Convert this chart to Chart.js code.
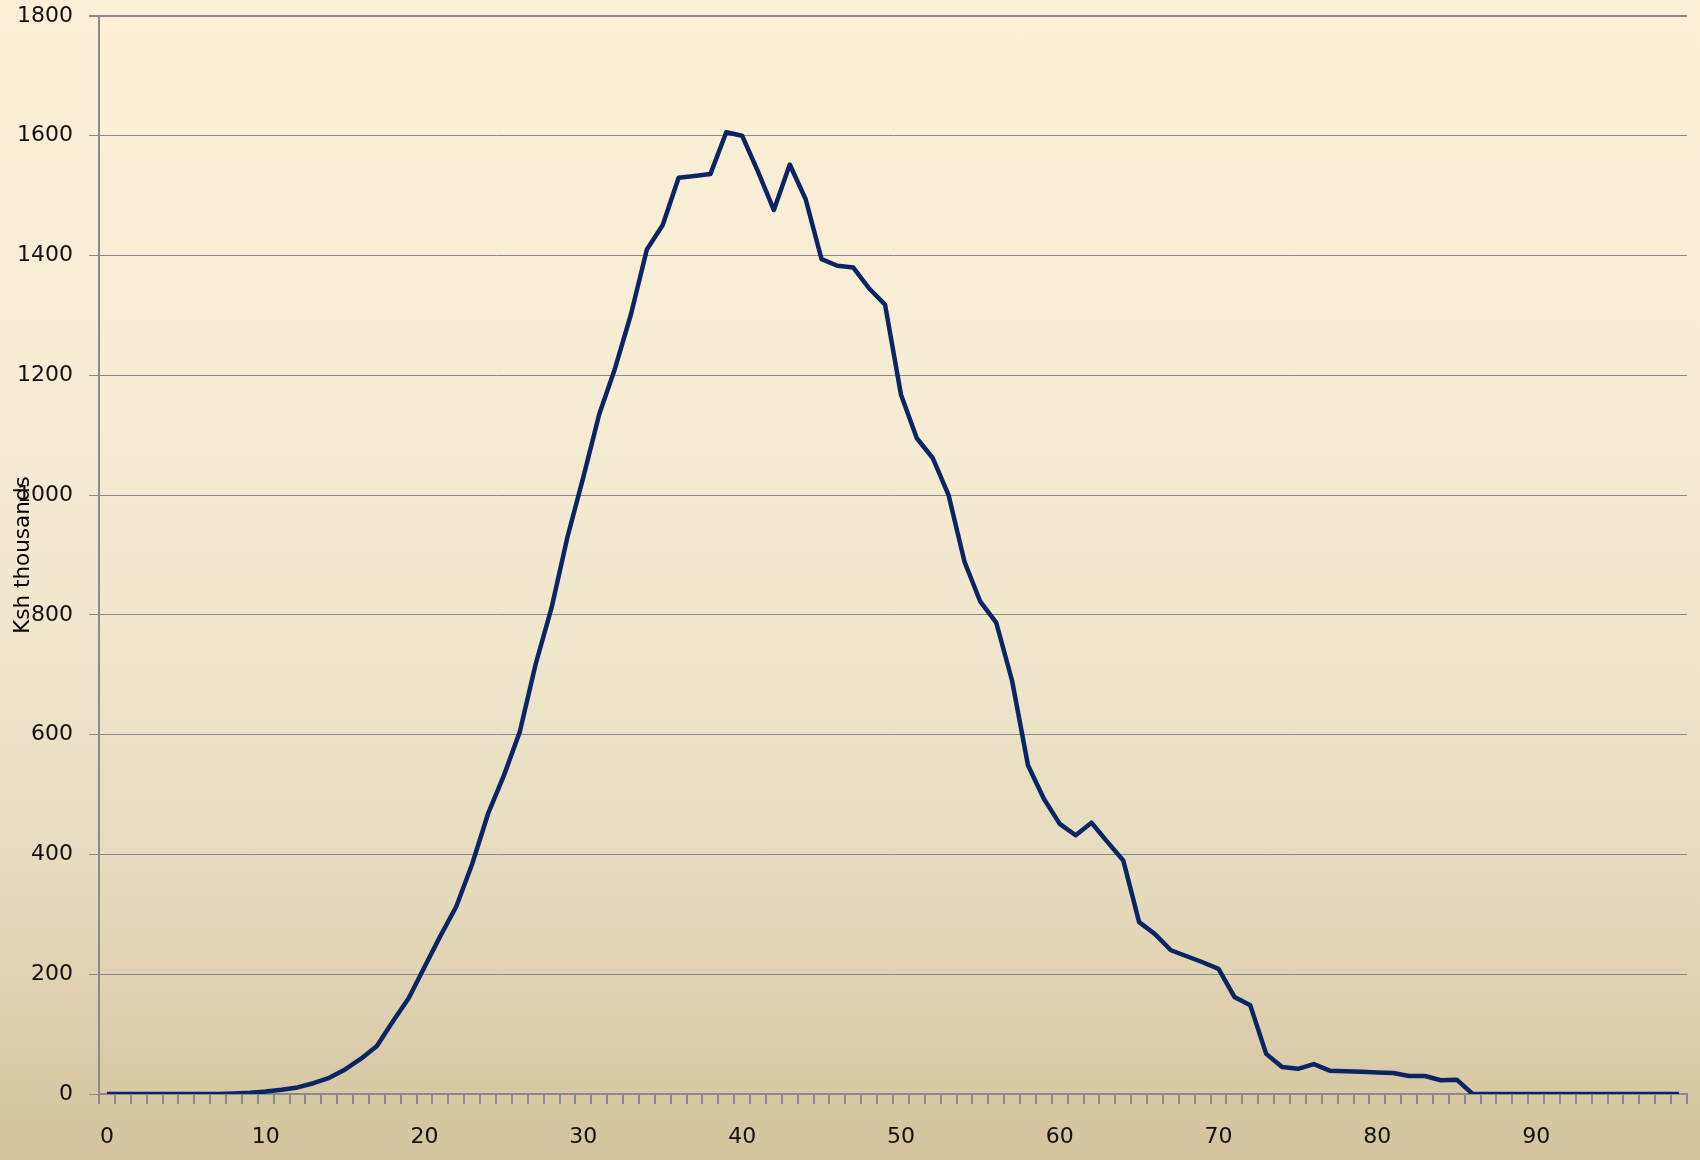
<!DOCTYPE html>
<html>
<head>
<meta charset="utf-8">
<script src="https://cdn.jsdelivr.net/npm/chart.js@4"></script>
<style>
  html, body { margin: 0; padding: 0; }
  body { width: 1700px; height: 1160px; overflow: hidden; }
  #wrap {
    width: 1700px; height: 1160px;
    background: linear-gradient(to bottom, #fcefd6 0%, #f6ecd4 35%, #efe6cc 55%, #e4d9bb 78%, #d3c39e 100%);
  }
</style>
</head>
<body>
<div id="wrap"><canvas id="chart" width="1700" height="1160"></canvas></div>
<script>
// age (years)
var ages = [
  0, 1, 2, 3, 4, 5, 6, 7, 8, 9,
  10, 11, 12, 13, 14, 15, 16, 17, 18, 19,
  20, 21, 22, 23, 24, 25, 26, 27, 28, 29,
  30, 31, 32, 33, 34, 35, 36, 37, 38, 39,
  40, 41, 42, 43, 44, 45, 46, 47, 48, 49,
  50, 51, 52, 53, 54, 55, 56, 57, 58, 59,
  60, 61, 62, 63, 64, 65, 66, 67, 68, 69,
  70, 71, 72, 73, 74, 75, 76, 77, 78, 79,
  80, 81, 82, 83, 84, 85, 86, 87, 88, 89,
  90, 91, 92, 93, 94, 95, 96, 97, 98, 99
];

// Ksh thousands
var amounts = [
  0, 0, 0, 0, 0, 0, 0, 0, 1, 2,
  4, 7, 11, 18, 27, 41, 59, 80, 121, 160,
  212, 264, 313, 384, 468, 532, 605, 718, 812, 930,
  1030, 1135, 1212, 1302, 1410, 1451, 1530, 1533, 1536, 1606,
  1600, 1540, 1476, 1552, 1494, 1394, 1383, 1380, 1345, 1318,
  1168, 1095, 1062, 1000, 889, 822, 787, 690, 549, 493,
  451, 432, 453, 421, 390, 287, 267, 240, 230, 220,
  209, 162, 148, 67, 45, 42, 50, 39, 38, 37,
  36, 35, 30, 30, 23, 24, 0, 0, 0, 0,
  0, 0, 0, 0, 0, 0, 0, 0, 0, 0
];

var xTickLabels = ['0', '10', '20', '30', '40', '50', '60', '70', '80', '90'];
var yMin = 0, yMax = 1800, yStep = 200;

var axisGrey = '#8a8a8a';
var labelFont = { family: 'DejaVu Sans', size: 22 };

new Chart(document.getElementById('chart'), {
  type: 'line',
  data: {
    labels: ages,
    datasets: [{
      data: amounts,
      borderColor: '#0b2463',
      borderWidth: 4.5,
      borderJoinStyle: 'round',
      tension: 0,
      pointRadius: 0,
      fill: false
    }]
  },
  options: {
    responsive: false,
    devicePixelRatio: 1,
    animation: false,
    layout: { padding: { top: 16, right: 13, left: 0, bottom: 0 } },
    plugins: { legend: { display: false }, tooltip: { enabled: false } },
    scales: {
      x: {
        type: 'category',
        offset: true,
        grid: { offset: true, drawOnChartArea: false, tickLength: 10, color: axisGrey, lineWidth: 2 },
        border: { color: axisGrey, width: 2 },
        ticks: {
          autoSkip: false, maxRotation: 0, minRotation: 0, padding: 20,
          color: '#111', font: labelFont,
          callback: function (v, i) {
            var s = String(ages[i]);
            return xTickLabels.indexOf(s) >= 0 ? s : '';
          }
        },
        afterFit: function (s) { s.height = 66; s.paddingLeft = 0; s.paddingRight = 0; }
      },
      y: {
        min: yMin, max: yMax,
        grid: {
          color: axisGrey, tickLength: 10,
          lineWidth: function (c) { return c.tick && c.tick.value === yMax ? 2 : 1; }
        },
        border: { color: axisGrey, width: 2 },
        ticks: {
          stepSize: yStep, padding: 16, color: '#111', font: labelFont,
          callback: function (v) { return String(v); }
        },
        title: {
          display: true, text: 'Ksh thousands', color: '#000',
          font: { family: 'DejaVu Sans', size: 21.5 },
          padding: { top: 11, bottom: 0 }
        },
        afterFit: function (s) { s.width = 99; s.paddingTop = 0; s.paddingBottom = 0; }
      }
    }
  }
});
</script>
</body>
</html>
